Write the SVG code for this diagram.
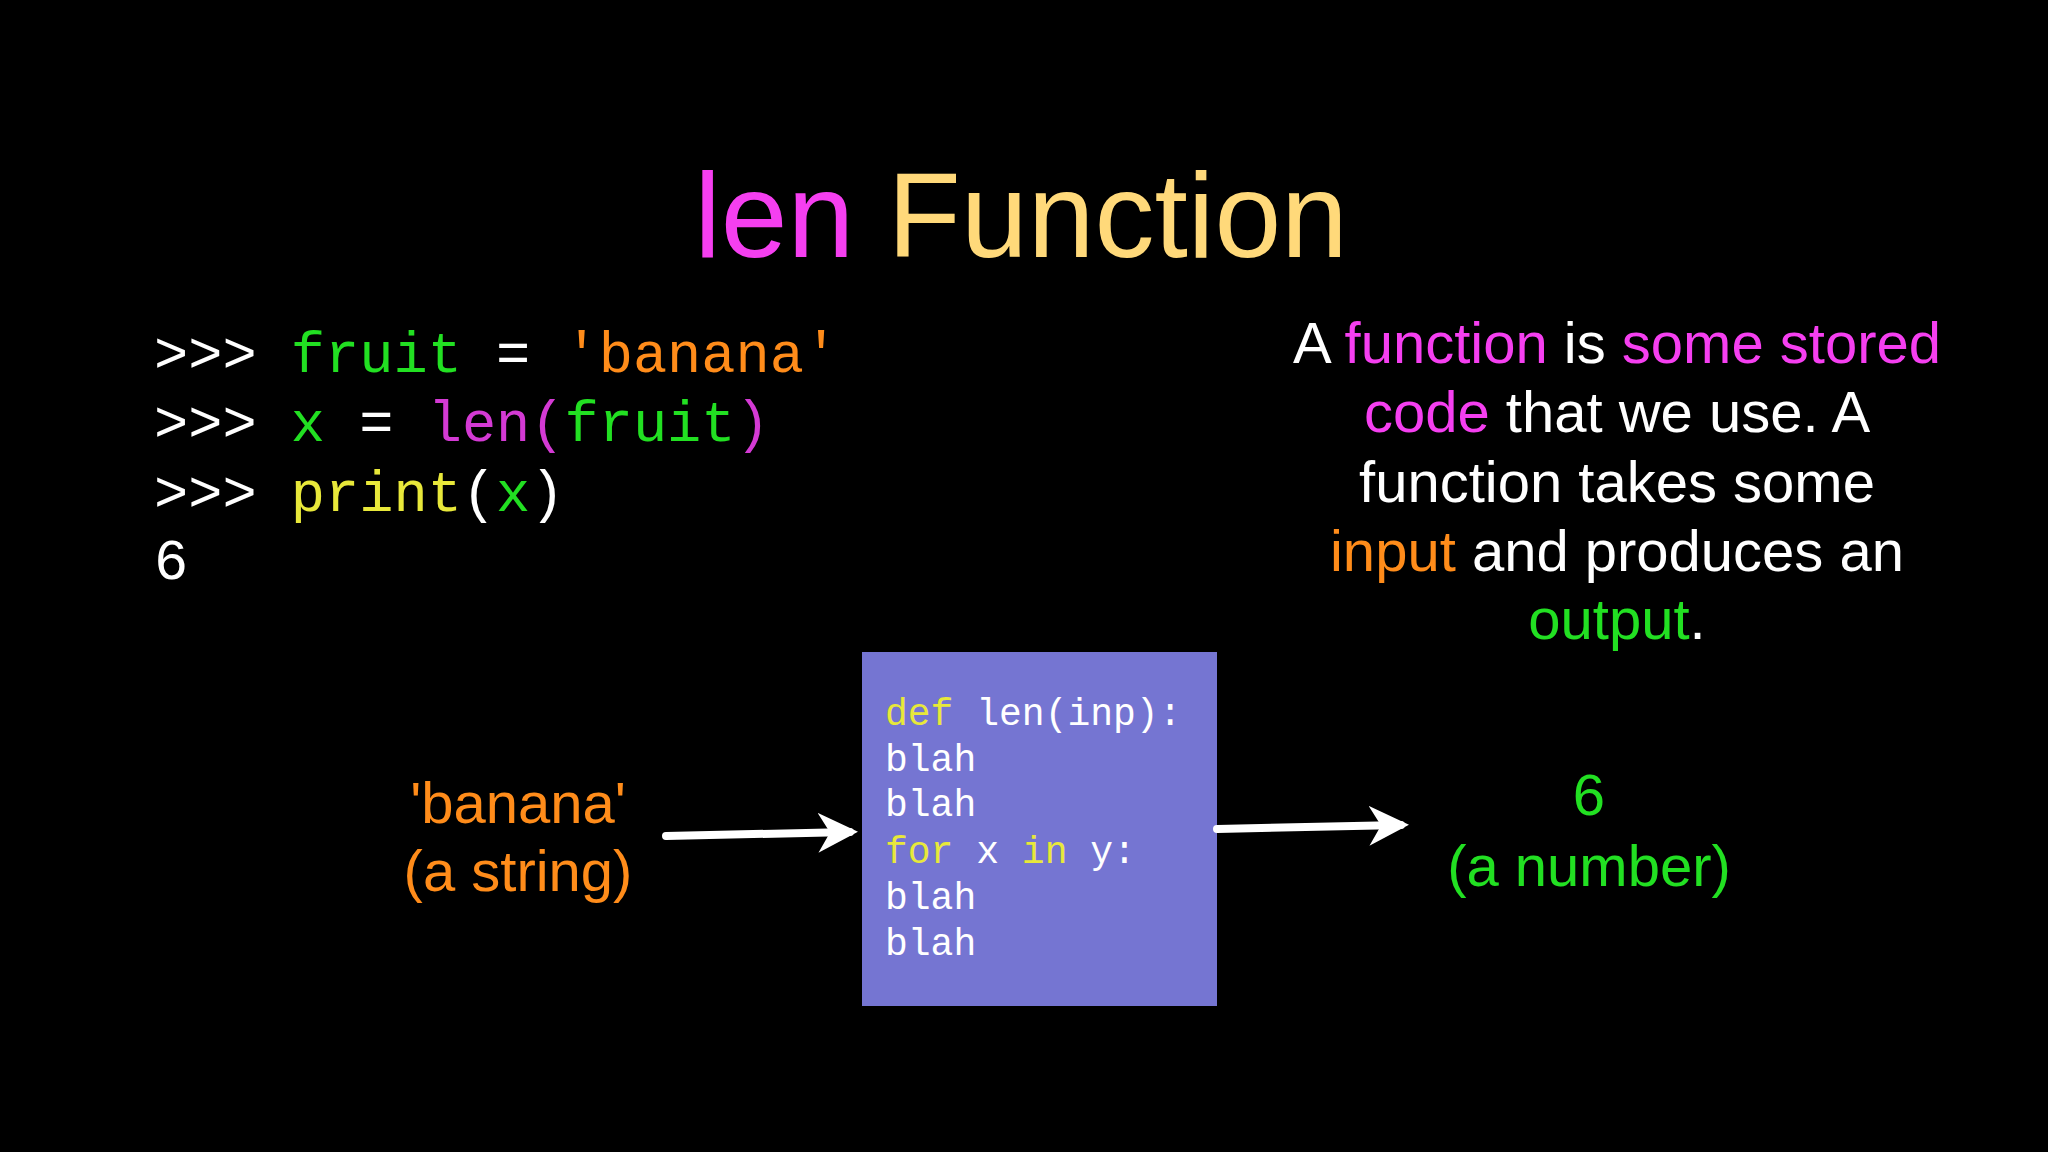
<svg xmlns="http://www.w3.org/2000/svg" width="2048" height="1152" viewBox="0 0 2048 1152">
<style>
.s{font-family:"Liberation Sans",Arial,sans-serif}
.m{font-family:"Liberation Mono","DejaVu Sans Mono",monospace;white-space:pre}
.w{fill:#ffffff}.mg{fill:#f53ff0}.or{fill:#ff8c1a}.gr{fill:#22e022}.yl{fill:#e8e83a}.pu{fill:#d43ad4}
</style>
<defs>
<marker id="ah" viewBox="0 0 10 10" refX="8" refY="5" markerWidth="5" markerHeight="5" orient="auto" markerUnits="strokeWidth"><path d="M0,0 L10,5 L0,10 L3,5 z" fill="#fff"/></marker>
</defs>
<rect width="2048" height="1152" fill="#000"/>
<g id="title"><text x="1021" y="257" text-anchor="middle" class="s" font-size="120"><tspan class="mg">len</tspan><tspan fill="#ffd97a"> Function</tspan></text></g>
<g id="code" class="m" font-size="57">
<text x="154" y="372" xml:space="preserve"><tspan class="w">&gt;&gt;&gt; </tspan><tspan class="gr">fruit</tspan><tspan class="w"> = </tspan><tspan class="or">'banana'</tspan></text>
<text x="154" y="441" xml:space="preserve"><tspan class="w">&gt;&gt;&gt; </tspan><tspan class="gr">x</tspan><tspan class="w"> = </tspan><tspan class="pu">len(</tspan><tspan class="gr">fruit</tspan><tspan class="pu">)</tspan></text>
<text x="154" y="511" xml:space="preserve"><tspan class="w">&gt;&gt;&gt; </tspan><tspan class="yl">print</tspan><tspan class="w">(</tspan><tspan class="gr">x</tspan><tspan class="w">)</tspan></text>
<text x="154" y="579" class="w">6</text>
</g>
<g id="desc" class="s" font-size="58" text-anchor="middle">
<text x="1617" y="363"><tspan class="w">A </tspan><tspan class="mg">function</tspan><tspan class="w"> is </tspan><tspan class="mg">some stored</tspan></text>
<text x="1617" y="432"><tspan class="mg">code</tspan><tspan class="w"> that we use. A</tspan></text>
<text x="1617" y="502" class="w">function takes some</text>
<text x="1617" y="571"><tspan class="or">input</tspan><tspan class="w"> and produces an</tspan></text>
<text x="1617" y="639"><tspan class="gr">output</tspan><tspan class="w">.</tspan></text>
</g>
<g id="box">
<rect x="862" y="652" width="355" height="354" fill="#7575d2"/>
<g class="m" font-size="38" xml:space="preserve">
<text x="885" y="725"><tspan class="yl">def</tspan><tspan class="w"> len(inp):</tspan></text>
<text x="885" y="771" class="w">   blah</text>
<text x="885" y="816" class="w">   blah</text>
<text x="885" y="863"><tspan class="yl">   for</tspan><tspan class="w"> x </tspan><tspan class="yl">in</tspan><tspan class="w"> y:</tspan></text>
<text x="885" y="909" class="w">     blah</text>
<text x="885" y="955" class="w">     blah</text>
</g>
</g>
<g id="input" class="s or" font-size="58" text-anchor="middle">
<text x="518" y="823">'banana'</text>
<text x="518" y="891">(a string)</text>
</g>
<g id="output" class="s gr" font-size="58" text-anchor="middle">
<text x="1589" y="815">6</text>
<text x="1589" y="886">(a number)</text>
</g>
<g id="connectors" stroke="#fff" stroke-width="8" stroke-linecap="round" fill="none">
<line x1="666" y1="836" x2="850" y2="832" marker-end="url(#ah)"/>
<line x1="1217" y1="829" x2="1401" y2="825" marker-end="url(#ah)"/>
</g>
</svg>
